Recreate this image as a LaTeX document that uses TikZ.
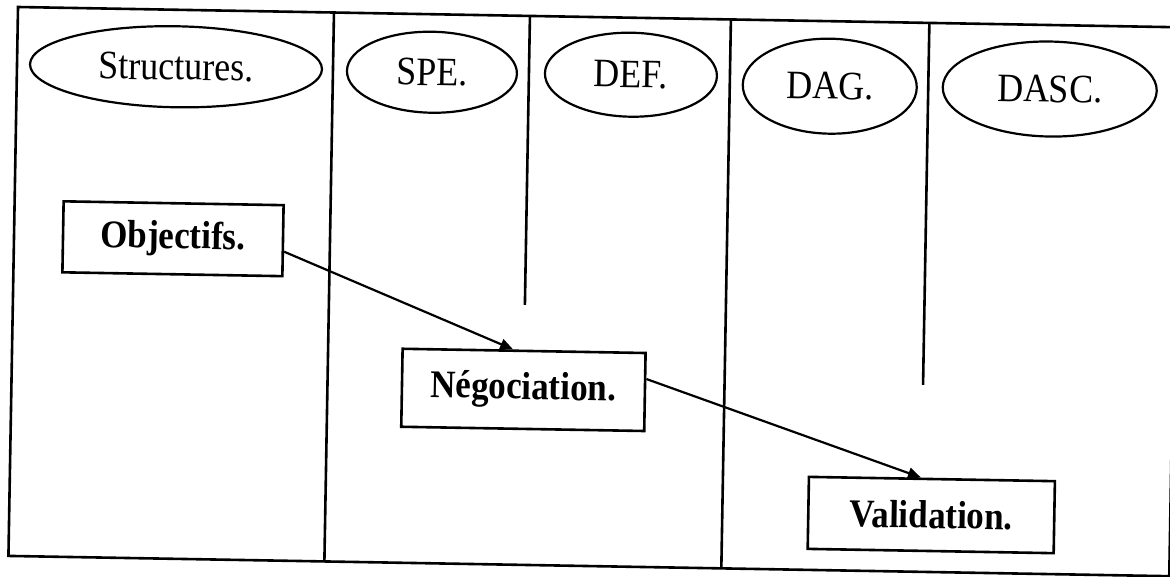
\documentclass[tikz,border=0pt]{standalone}
\usepackage{fontspec}
\setmainfont{Liberation Serif}
\usetikzlibrary{shapes.geometric,arrows.meta}
% labels are set a little taller than the face's natural shape
\newcommand{\tallbox}[1]{\scalebox{1}[1.12]{#1}}

\begin{document}
\begin{tikzpicture}[x=1pt,y=-1pt,
  lane/.style={line width=2.6pt},
  actor/.style={ellipse,draw,line width=2.2pt,inner sep=0pt,
    font=\fontsize{36}{40}\selectfont},
  task/.style={rectangle,draw,line width=2.6pt,inner sep=0pt,
    font=\bfseries\fontsize{35}{40}\selectfont},
  flow/.style={line width=2.2pt,-{Triangle[length=13pt,width=11pt]}}]
\useasboundingbox (0,0) rectangle (1170,576);
% the whole sheet sits slightly askew
\begin{scope}[rotate around={-1:(18,8)},transform shape]
  % outer frame and lane separators
  \coordinate (tl) at (18,7);
  \coordinate (br) at (1179,556);
  \draw[lane] (tl) rectangle (br);
  \draw[lane] (334,7) -- (334,556);
  \draw[lane] (530,7) -- (530,296);
  \draw[lane] (731,7) -- (731,556);
  \draw[lane] (929.5,7) -- (929.5,369);

  % actors heading each lane
  \node[actor,minimum width=292pt,minimum height=81pt] (structures) at (177,64) {\tallbox{Structures.}};
  \node[actor,minimum width=170pt,minimum height=81pt] (spe) at (433,65) {\tallbox{SPE.}};
  \node[actor,minimum width=172pt,minimum height=84pt] (def) at (632,64) {\tallbox{DEF.}};
  \node[actor,minimum width=174pt,minimum height=95pt] (dag) at (831,72) {\tallbox{DAG.}};
  \node[actor,minimum width=214pt,minimum height=95pt] (dasc) at (1051,71) {\tallbox{DASC.}};

  % process steps
  \node[task,minimum width=220pt,minimum height=71pt] (objectifs) at (177,236) {\tallbox{Objectifs.}};
  \node[task,minimum width=243pt,minimum height=78pt] (negociation) at (530,381) {\tallbox{Négociation.}};
  \node[task,minimum width=246pt,minimum height=72pt] (validation) at (940,499) {\tallbox{Validation.}};

  \draw[flow] ([yshift=-11pt]objectifs.east) -- ([xshift=-11pt]negociation.north);
  \draw[flow] ([yshift=13pt]negociation.east) -- ([xshift=-11pt]validation.north);
\end{scope}
\end{tikzpicture}
\end{document}
